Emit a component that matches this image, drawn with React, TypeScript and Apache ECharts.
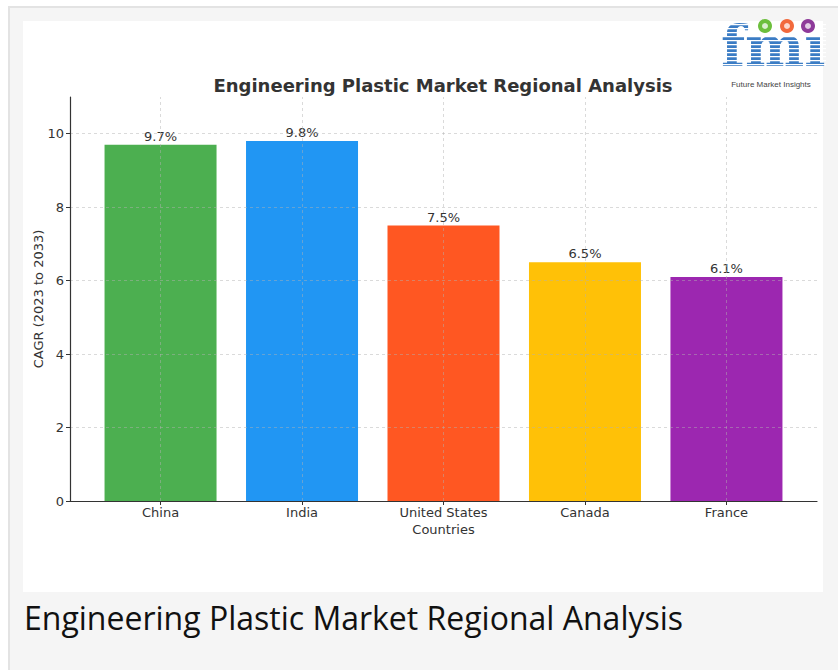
import React, { useEffect, useRef } from "react";
import * as echarts from "echarts";

// Regional CAGR figures, 2023 to 2033
const countries = ["China", "India", "United States", "Canada", "France"];
const cagrValues = [9.7, 9.8, 7.5, 6.5, 6.1];
const barColors = ["#4CAF50", "#2196F3", "#FF5722", "#FFC107", "#9C27B0"];
const yTicks = [0, 2, 4, 6, 8, 10];
const xTicks = [0, 1, 2, 3, 4];

const chartTitle = "Engineering Plastic Market Regional Analysis";
const caption = "Engineering Plastic Market Regional Analysis";
const yAxisTitle = "CAGR (2023 to 2033)";
const xAxisTitle = "Countries";

const FONT = "DejaVu Sans";
const gridStyle = { color: "rgba(176,176,176,0.6)", width: 0.8, type: [3, 3] as number[] };

function logoGraphics() {
  const items: any[] = [];
  // "fmi" lettering
  items.push({
    type: "text",
    x: 721,
    y: 74,
    z: 10,
    style: {
      text: "fm\u0131",
      font: "bold 56px 'DejaVu Serif'",
      fill: "#3b7cc4",
      textVerticalAlign: "bottom",
      textAlign: "left",
    },
  });
  // white stripes across the letters
  for (let y = 24; y < 68; y += 4) {
    items.push({
      type: "rect",
      z: 11,
      shape: { x: 718, y, width: 108, height: 1.3 },
      style: { fill: "#ffffff" },
    });
  }
  const dots = [
    { x: 765, c: "#6cbf3c" },
    { x: 787, c: "#f26a3d" },
    { x: 808, c: "#8e3a9a" },
  ];
  dots.forEach((d) => {
    items.push({
      type: "circle",
      z: 12,
      shape: { cx: d.x, cy: 26, r: 7 },
      style: { fill: d.c },
    });
    items.push({
      type: "circle",
      z: 13,
      shape: { cx: d.x, cy: 26, r: 3 },
      style: { fill: "#ffffff", opacity: 0.75 },
    });
  });
  items.push({
    type: "text",
    x: 771,
    y: 84,
    z: 12,
    style: {
      text: "Future Market Insights",
      font: "8px 'Liberation Sans'",
      fill: "#444",
      textAlign: "center",
      textVerticalAlign: "middle",
    },
  });
  return items;
}

export default function App() {
  const ref = useRef<HTMLDivElement>(null);

  useEffect(() => {
    if (!ref.current) return;
    const chart = echarts.init(ref.current, null, { renderer: "svg" });

    const option: any = {
      animation: false,
      backgroundColor: "#ffffff",
      title: {
        text: chartTitle,
        left: 438,
        top: 71,
        textAlign: "center",
        textStyle: {
          fontFamily: FONT,
          fontWeight: "bold",
          fontSize: 18,
          color: "#333",
        },
      },
      graphic: [
        {
          type: "rect",
          z: -10,
          silent: true,
          shape: { x: 9, y: 7, width: 840, height: 670 },
          style: { fill: "#f5f5f5", stroke: "#e3e3e3", lineWidth: 2 },
        },
        {
          type: "rect",
          z: -9,
          silent: true,
          shape: { x: 23, y: 21, width: 800, height: 571 },
          style: { fill: "#ffffff" },
        },
        {
          type: "text",
          x: 24,
          y: 617,
          style: {
            text: caption,
            font: "32px 'Open Sans'",
            fill: "#111",
            textVerticalAlign: "middle",
          },
        },
        ...logoGraphics(),
      ],
      grid: {
        left: 70,
        right: 21,
        top: 97,
        bottom: 169,
        containLabel: false,
      },
      xAxis: {
        type: "value",
        min: -0.64,
        max: 4.64,
        z: 5,
        name: xAxisTitle,
        nameLocation: "middle",
        nameGap: 22,
        nameMoveOverlap: false,
        nameTextStyle: { fontFamily: FONT, fontSize: 13, color: "#333" },
        axisLine: { show: true, onZero: false, lineStyle: { color: "#333", width: 1.2 } },
        axisTick: {
          show: true,
          customValues: xTicks,
          length: 4,
          lineStyle: { color: "#333", width: 1 },
        },
        axisLabel: {
          customValues: xTicks,
          formatter: (v: number) => countries[Math.round(v)] ?? "",
          fontFamily: FONT,
          fontSize: 13,
          color: "#333",
          margin: 5,
        },
        splitLine: { show: false },
      },
      yAxis: {
        type: "value",
        min: 0,
        max: 11,
        z: 5,
        name: yAxisTitle,
        nameLocation: "middle",
        nameGap: 25,
        nameMoveOverlap: false,
        nameTextStyle: { fontFamily: FONT, fontSize: 13, color: "#333" },
        axisLine: { show: true, onZero: false, lineStyle: { color: "#333", width: 1.2 } },
        axisTick: {
          show: true,
          customValues: yTicks,
          length: 4,
          lineStyle: { color: "#333", width: 1 },
        },
        axisLabel: {
          customValues: yTicks,
          fontFamily: FONT,
          fontSize: 13,
          color: "#333",
          margin: 6,
        },
        splitLine: { show: false },
      },
      series: [
        {
          type: "bar",
          barWidth: 112,
          data: cagrValues.map((v, i) => ({
            value: [i, v],
            itemStyle: { color: barColors[i] },
          })),
          label: {
            show: true,
            position: "top",
            distance: 2,
            formatter: (p: any) => `${p.value[1].toFixed(1)}%`,
            fontFamily: FONT,
            fontSize: 13,
            color: "#333",
          },
          markLine: {
            silent: true,
            symbol: ["none", "none"],
            label: { show: false },
            lineStyle: gridStyle,
            emphasis: { disabled: true },
            data: [
              ...xTicks.map((x) => ({ xAxis: x })),
              ...yTicks.filter((y) => y > 0).map((y) => ({ yAxis: y })),
            ],
          },
        },
      ],
    };

    chart.setOption(option);
    return () => chart.dispose();
  }, []);

  return (
    <div
      style={{ position: "absolute", left: 0, top: 0, width: 838, height: 670 }}
    >
      <div ref={ref} style={{ width: 838, height: 670 }} />
    </div>
  );
}
